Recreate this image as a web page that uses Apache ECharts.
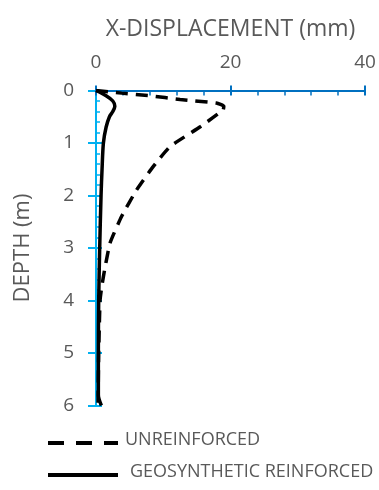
<!DOCTYPE html>
<html><head><meta charset="utf-8">
<script src="https://cdn.jsdelivr.net/npm/echarts@6/dist/echarts.min.js"></script>
<style>html,body{margin:0;padding:0;background:#fff}#c{width:379px;height:490px}</style>
</head><body><div id="c"></div>
<script>
var unreinforcedDepth = [0, 0.05, 0.1, 0.17, 0.24, 0.3, 0.37, 0.69, 1.07, 1.45, 1.9, 2.4, 2.9, 3.4, 3.74, 4, 5, 6];
var unreinforcedDisp  = [0, 3.8, 8.0, 12.5, 17.9, 19.0, 18.9, 15.5, 11.0, 8.5, 6.0, 3.8, 2.1, 1.3, 0.85, 0.6, 0.4, 0.3];
var reinforcedDepth = [0, 0.1, 0.2, 0.3, 0.4, 0.5, 0.7, 1.0, 1.5, 2.0, 3.0, 4.0, 5.0, 5.8, 6.0];
var reinforcedDisp  = [0, 1.5, 2.5, 2.8, 2.5, 2.0, 1.5, 1.1, 0.9, 0.75, 0.55, 0.4, 0.35, 0.35, 0.8];
var seriesNames = ['UNREINFORCED', 'GEOSYNTHETIC REINFORCED'];
var xTicks = [0, 20, 40];
var yTicks = [0, 1, 2, 3, 4, 5, 6];

function pairs(xs, ds){ return xs.map(function(v,i){ return [v, ds[i]]; }); }
var FONT = 'Open Sans';
var GREY = '#595959';
var chart = echarts.init(document.getElementById('c'));
var xCommon = {type:'value', position:'top', min:xTicks[0], max:xTicks[xTicks.length-1], interval:20, splitLine:{show:false}};
var yCommon = {type:'value', inverse:true, min:yTicks[0], max:yTicks[yTicks.length-1], interval:1, splitLine:{show:false}};
chart.setOption({
  animation:false,
  textStyle:{fontFamily:FONT},
  grid:{left:96, top:90.5, right:14, bottom:84.5},
  xAxis:[
    Object.assign({}, xCommon, {
      name:'X-DISPLACEMENT (mm)', nameLocation:'middle', nameGap:50,
      nameTextStyle:{color:GREY, fontSize:23, fontFamily:FONT},
      axisLine:{lineStyle:{color:'#0070C0', width:2}},
      axisTick:{inside:false, length:5, lineStyle:{color:'#0070C0', width:2}},
      axisLabel:{color:GREY, fontSize:19, margin:18, fontFamily:FONT}
    }),
    Object.assign({}, xCommon, {
      axisLine:{show:false},
      axisTick:{inside:true, length:5, lineStyle:{color:'#0070C0', width:2}},
      minorTick:{show:true, splitNumber:5, length:5, lineStyle:{color:'#0070C0', width:1.5}},
      axisLabel:{show:false}
    })
  ],
  yAxis:[
    Object.assign({}, yCommon, {
      name:'DEPTH (m)', nameLocation:'middle', nameGap:62, nameRotate:90,
      nameTextStyle:{color:GREY, fontSize:22, fontFamily:FONT},
      axisLine:{lineStyle:{color:'#00B0F0', width:2}},
      axisTick:{inside:false, length:8, lineStyle:{color:'#00B0F0', width:2}},
      axisLabel:{color:GREY, fontSize:19, margin:22, fontFamily:FONT}
    }),
    Object.assign({}, yCommon, {
      position:'left',
      axisLine:{show:false},
      axisTick:{inside:true, length:6, lineStyle:{color:'#00B0F0', width:2}},
      minorTick:{show:true, splitNumber:5, length:4, lineStyle:{color:'#00B0F0', width:1.5}},
      axisLabel:{show:false}
    })
  ],
  graphic:[
    {type:'line', shape:{x1:48, y1:443, x2:118, y2:443}, style:{stroke:'#000', lineWidth:4, lineDash:[16,12]}},
    {type:'text', left:125, top:431, style:{text:seriesNames[0], fill:GREY, font:'18px "Open Sans"'}},
    {type:'line', shape:{x1:48, y1:475, x2:118, y2:475}, style:{stroke:'#000', lineWidth:4}},
    {type:'text', left:130, top:463, style:{text:seriesNames[1], fill:GREY, font:'18px "Open Sans"'}}
  ],
  series:[
    {name:seriesNames[0], type:'line', smooth:0.15, showSymbol:false, symbol:'none',
     data:pairs(unreinforcedDisp, unreinforcedDepth),
     lineStyle:{color:'#000', width:3.5, type:[12,8]}, itemStyle:{color:'#000'}},
    {name:seriesNames[1], type:'line', smooth:0.3, showSymbol:false, symbol:'none',
     data:pairs(reinforcedDisp, reinforcedDepth),
     lineStyle:{color:'#000', width:3.5}, itemStyle:{color:'#000'}}
  ]
});
</script></body></html>
